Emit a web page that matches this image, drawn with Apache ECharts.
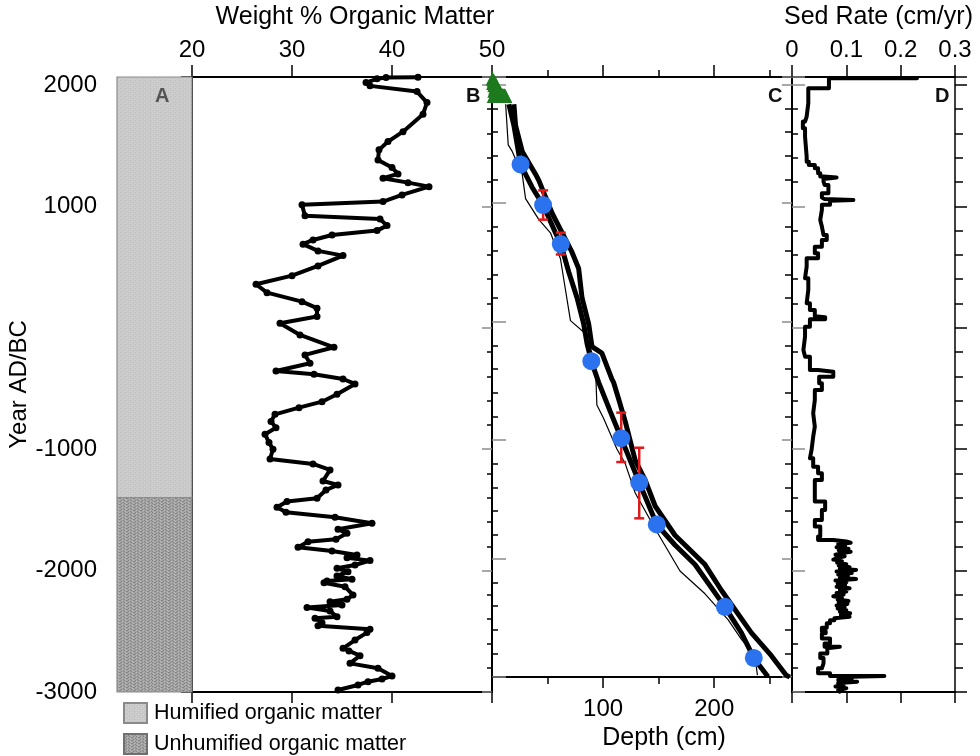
<!DOCTYPE html>
<html>
<head>
<meta charset="utf-8">
<script src="https://cdn.jsdelivr.net/npm/echarts@6/dist/echarts.min.js"></script>
<style>html,body{margin:0;padding:0;background:#fff}#c{width:980px;height:756px}</style>
</head>
<body>
<div id="c"></div>
<script>
// ---------- DATA ----------
const yearMin = -3000, yearMax = 2065;
// Panel A: humification zones [top year, bottom year]
const humifiedSpan = [2065, -1400];
const unhumifiedSpan = [-1400, -3000];
const legendNames = ['Humified organic matter', 'Unhumified organic matter'];

// Panel B: weight % organic matter
const omValue = [42.6,39.4,38.5,37.4,37.8,42.5,43.5,43.1,41.1,39.6,38.7,38.6,40.0,40.6,39.1,41.6,43.7,41.0,39.1,31.0,31.3,38.8,39.5,38.5,34.0,32.1,31.1,32.6,35.1,32.6,30.0,26.4,27.5,31.0,32.5,32.5,28.8,30.8,34.2,31.3,31.8,28.4,32.2,35.1,36.3,34.5,33.0,30.7,28.3,27.9,28.4,27.3,27.7,28.1,27.8,32.1,33.8,33.1,34.6,33.4,32.5,29.5,28.5,29.4,34.3,38.0,34.6,35.5,34.4,31.6,30.6,34.0,36.5,35.5,37.8,36.3,34.5,35.6,34.5,36.0,33.5,33.2,35.3,36.1,35.5,33.8,35.0,31.5,33.8,34.5,32.3,33.0,32.6,37.8,37.5,36.3,35.1,35.7,36.8,35.8,38.6,40.0,39.0,37.6,36.6,34.6];
const omYear = [2062,2060,2050,2019,1992,1945,1854,1759,1615,1533,1465,1382,1319,1267,1231,1195,1162,1094,1039,1012,923,896,841,800,764,723,688,633,594,509,429,358,289,215,161,92,37,-59,-161,-224,-293,-356,-383,-422,-463,-548,-609,-658,-713,-773,-823,-877,-946,-1001,-1081,-1122,-1171,-1262,-1295,-1336,-1405,-1432,-1479,-1520,-1561,-1610,-1660,-1693,-1742,-1762,-1808,-1839,-1871,-1895,-1918,-1954,-1981,-2009,-2044,-2072,-2085,-2100,-2133,-2201,-2237,-2256,-2283,-2305,-2333,-2380,-2393,-2429,-2454,-2484,-2511,-2572,-2640,-2662,-2701,-2764,-2805,-2868,-2893,-2915,-2942,-2983];

// Panel C: age-depth model
const centralDepth = [15.2,19.7,22.7,25.7,36.1,46,57.1,61.9,69,76.5,82.5,85.5,89.4,96,106.5,116.3,132.5,148.3,164.7,182.7,209.6,224.5,235.6,248.4];
const centralYear  = [1835,1657,1492,1327,1135,984,750,655,421,202,-18,-183,-334,-512,-759,-984,-1358,-1712,-1885,-2050,-2407,-2627,-2838,-2997];
const upperDepth = [19.7,21.2,27.2,39.2,42.2,54.1,72,78,81,87,90,98.9,107.9,109.4,113.9,119.9,128.9,137.8,146.8,164.7,191.7,206.6,233.5,251.4,264.8,268];
const upperYear  = [1835,1657,1437,1245,1190,915,586,449,202,-18,-210,-265,-485,-512,-650,-842,-1171,-1336,-1556,-1803,-2050,-2269,-2627,-2819,-2984,-3000];
const lowerDepth = [12.3,14.6,18.2,27.2,30.2,42.2,52.6,61.6,70.6,84,93,94.4,100.4,112.4,119.9,128.9,146.8,169.2,191.7,212.6,224.5,236.5,238.9];
const lowerYear  = [1835,1492,1437,1245,1039,861,750,531,9,-100,-348,-704,-815,-1075,-1198,-1446,-1748,-2105,-2297,-2517,-2681,-2819,-2984];
const dateDepth = [25.7,46,61.9,89.4,116.3,132.5,148.3,209.6,235.6];
const dateYear  = [1327,984,655,-334,-984,-1358,-1712,-2407,-2838];
const errDepth = [46,61.9,116.3,132.5];
const errLow   = [861,567,-1185,-1660];
const errHigh  = [1108,751,-768,-1064];
const pbDepth = [0.5,1.5,1,2.5,2,3.5,3,4.5,2,5.5,4,6.5,3,7.5,5.5,8.5,1.5,9.5,6,10.5,3.5,11.5,7.5,12];
const pbYear  = [2050,2035,2015,2020,1995,2000,1975,1980,1950,1960,1945,1945,1925,1930,1920,1920,1905,1910,1905,1910,1905,1910,1925,1905];

// Panel D: sedimentation rate (rate held from each year down to the next)
const sedRate = [0.230,0.068,0.068,0.030,0.030,0.027,0.024,0.020,0.024,0.027,0.027,0.031,0.042,0.048,0.052,0.058,0.082,0.058,0.060,0.067,0.055,0.052,0.060,0.113,0.070,0.055,0.052,0.055,0.058,0.064,0.055,0.042,0.048,0.027,0.024,0.030,0.027,0.033,0.042,0.045,0.061,0.033,0.024,0.021,0.024,0.033,0.033,0.048,0.076,0.050,0.055,0.042,0.039,0.042,0.039,0.036,0.033,0.039,0.048,0.055,0.042,0.042,0.061,0.055,0.042,0.052,0.048,
  0.076,0.100,0.108,0.085,0.098,0.082,0.104,0.086,0.108,0.090,0.080,0.097,0.084,0.076,0.092,0.083,0.100,0.086,0.106,0.088,0.118,0.082,0.110,0.085,0.103,0.088,0.118,0.080,0.100,0.084,0.098,0.082,0.106,0.088,0.100,0.082,0.095,0.076,0.092,0.084,0.104,0.086,0.102,0.082,0.097,0.084,0.100,0.088,0.107,0.090,0.106,0.078,0.070,0.064,
  0.055,0.062,0.055,0.070,0.060,0.088,0.065,0.052,0.058,0.055,0.048,0.070,0.170,0.090,0.110,0.085,0.120,0.085,0.095,0.080,0.100,0.085,0.088];
const sedYear = [2055,2055,1973,1973,1959,1849,1739,1698,1643,1574,1409,1368,1341,1314,1273,1245,1237,1225,1204,1176,1108,1072,1060,1053,1045,1012,971,888,833,764,723,668,614,573,504,408,311,202,147,95,87,70,9,-73,-183,-238,-320,-348,-362,-403,-457,-512,-595,-704,-815,-897,-1006,-1075,-1144,-1198,-1254,-1363,-1432,-1501,-1583,-1638,-1720,
  -1748,-1760,-1770,-1782,-1795,-1808,-1820,-1832,-1845,-1858,-1870,-1882,-1895,-1910,-1922,-1935,-1948,-1960,-1972,-1985,-1995,-2008,-2020,-2032,-2045,-2058,-2070,-2082,-2095,-2108,-2120,-2133,-2146,-2160,-2172,-2185,-2198,-2212,-2225,-2238,-2250,-2262,-2275,-2288,-2300,-2313,-2326,-2340,-2352,-2366,-2380,-2393,-2410,-2434,
  -2470,-2500,-2517,-2560,-2600,-2627,-2640,-2682,-2720,-2764,-2805,-2846,-2868,-2876,-2890,-2900,-2915,-2925,-2942,-2955,-2969,-2985,-2997];

// ---------- helpers ----------
const zip = (a, b) => a.map((v, i) => [v, b[i]]);
function makePattern(base, dark, light, w, h, darkPts, lightPts) {
  const c = document.createElement('canvas');
  c.width = w; c.height = h;
  const g = c.getContext('2d');
  g.fillStyle = base; g.fillRect(0, 0, w, h);
  g.fillStyle = dark; darkPts.forEach(p => g.fillRect(p[0], p[1], 1, 1));
  g.fillStyle = light; lightPts.forEach(p => g.fillRect(p[0], p[1], 1, 1));
  return c;
}
const humPat = { image: makePattern('#cacaca', '#bebebe', '#d4d4d4', 5, 4, [[0,0],[3,2]], [[2,1],[4,3]]), repeat: 'repeat' };
const unhumPat = { image: makePattern('#a3a3a3', '#858585', '#bababa', 7, 3, [[0,0],[1,0],[4,1],[5,2],[2,2]], [[3,0],[6,1],[0,2]]), repeat: 'repeat' };

const FONT = 'Liberation Sans';
const black = '#000';
const yBase = { type: 'value', min: yearMin, max: yearMax, interval: 1000, splitLine: { show: false }, axisLabel: { show: false } };
function yAx(grid, pos, opts) {
  return Object.assign({}, yBase, { gridIndex: grid, position: pos,
    axisLine: { show: true, onZero: false, lineStyle: { color: black, width: opts.lw || 2 } },
    axisTick: { show: true, inside: opts.inside, length: opts.major, lineStyle: { color: opts.majorColor, width: 1.5 } },
    minorTick: { show: true, splitNumber: 5, length: opts.minor, lineStyle: { color: black, width: 1.5 } }
  });
}
function xAx(grid, pos, min, max, interval, opts) {
  return Object.assign({ type: 'value', gridIndex: grid, position: pos, min: min, max: max, interval: interval,
    splitLine: { show: false },
    axisLine: { show: true, onZero: false, lineStyle: { color: black, width: 2 } },
    axisTick: { show: true, inside: false, length: opts.major || 12, lineStyle: { color: black, width: 1.5 } },
    minorTick: { show: !!opts.minor, splitNumber: 2, length: opts.minor || 0, lineStyle: { color: black, width: 1.5 } },
    axisLabel: { show: !!opts.labels, fontSize: 24, color: black, margin: opts.margin || 14, formatter: opts.formatter }
  }, opts.extra || {});
}

const rectItem = (params, api) => {
  const p1 = api.coord([0, api.value(1)]);
  const p2 = api.coord([1, api.value(2)]);
  return { type: 'rect', shape: { x: p1[0], y: p1[1], width: p2[0] - p1[0], height: p2[1] - p1[1] },
    style: { fill: api.visual('color'), stroke: '#8a8a8a', lineWidth: 1.2 } };
};
const errItem = (params, api) => {
  const lo = api.coord([api.value(0), api.value(1)]);
  const hi = api.coord([api.value(0), api.value(2)]);
  const w = 5, st = { stroke: '#e01a1a', lineWidth: 2.5 };
  return { type: 'group', children: [
    { type: 'line', shape: { x1: lo[0], y1: lo[1], x2: hi[0], y2: hi[1] }, style: st },
    { type: 'line', shape: { x1: lo[0] - w, y1: lo[1], x2: lo[0] + w, y2: lo[1] }, style: st },
    { type: 'line', shape: { x1: hi[0] - w, y1: hi[1], x2: hi[0] + w, y2: hi[1] }, style: st }
  ] };
};

const option = {
  animation: false,
  backgroundColor: '#fff',
  textStyle: { fontFamily: FONT, color: black },
  grid: [
    { left: 117, top: 77, width: 75, height: 615 },
    { left: 192, top: 77, width: 300, height: 615 },
    { left: 492, top: 77, width: 300, height: 615 },
    { left: 792, top: 77, width: 163, height: 615 }
  ],
  legend: {
    data: legendNames, orient: 'vertical', left: 123, top: 702, padding: 0, itemWidth: 23, itemHeight: 20, itemGap: 9,
    icon: 'rect', selectedMode: false,
    textStyle: { fontSize: 21.5, lineHeight: 20, color: black, fontFamily: FONT, padding: [0, 0, 0, 2] }
  },
  xAxis: [
    { type: 'value', gridIndex: 0, min: 0, max: 1, show: false },
    xAx(1, 'top', 20, 50, 10, { labels: true, margin: 15, extra: {
      name: 'Weight % Organic Matter', nameLocation: 'middle', nameGap: 47, nameTextStyle: { fontSize: 25, color: black, padding: [0, 0, 0, 26] } } }),
    xAx(1, 'bottom', 20, 50, 10, { major: 11 }),
    xAx(2, 'top', 0, 270, 100, { major: 12, minor: 7 }),
    xAx(2, 'bottom', 0, 270, 100, { major: 11, minor: 7, labels: true, margin: 20,
      formatter: v => (v === 100 || v === 200) ? String(v) : '',
      extra: { name: 'Depth (cm)', nameLocation: 'middle', nameGap: 42, nameTextStyle: { fontSize: 25, color: black, padding: [0, 0, 0, 44] } } }),
    xAx(3, 'top', 0, 0.3, 0.1, { labels: true, margin: 15, extra: {
      name: 'Sed Rate (cm/yr)', nameLocation: 'middle', nameGap: 47, nameTextStyle: { fontSize: 25, color: black, padding: [0, 0, 0, 10] } } }),
    xAx(3, 'bottom', 0, 0.3, 0.1, { major: 11 })
  ],
  yAxis: [
    Object.assign({}, yBase, { gridIndex: 0, position: 'left', axisLine: { show: false }, axisTick: { show: false },
      axisLabel: { show: true, fontSize: 24, color: black, margin: 20, formatter: v => (v % 1000 === 0 && v !== 0) ? String(v) : '' },
      name: 'Year AD/BC', nameLocation: 'middle', nameGap: 77, nameTextStyle: { fontSize: 24, color: black } }),
    yAx(1, 'left', { inside: false, major: 11, minor: 11, majorColor: black }),
    yAx(1, 'right', { inside: true, major: 10, minor: 5, majorColor: '#8c8c8c' }),
    yAx(2, 'left', { inside: true, major: 14, minor: 6, majorColor: '#8c8c8c' }),
    yAx(2, 'right', { inside: true, major: 10, minor: 7, majorColor: '#8c8c8c' }),
    yAx(3, 'left', { inside: true, major: 13, minor: 6, majorColor: '#8c8c8c' }),
    yAx(3, 'right', { inside: false, major: 12, minor: 8, majorColor: black, lw: 1.5 })
  ],
  series: [
    { type: 'custom', name: legendNames[0], xAxisIndex: 0, yAxisIndex: 0, renderItem: rectItem,
      itemStyle: { color: humPat, borderColor: '#8a8a8a', borderWidth: 1 }, encode: { x: 0, y: [1, 2] },
      data: [[0, humifiedSpan[0], humifiedSpan[1]]], z: 1 },
    { type: 'custom', name: legendNames[1], xAxisIndex: 0, yAxisIndex: 0, renderItem: rectItem,
      itemStyle: { color: unhumPat, borderColor: '#707070', borderWidth: 1 }, encode: { x: 0, y: [1, 2] },
      data: [[0, unhumifiedSpan[0], unhumifiedSpan[1]]], z: 1 },
    { type: 'line', xAxisIndex: 1, yAxisIndex: 1, data: zip(omValue, omYear), symbol: 'circle', symbolSize: 7,
      showAllSymbol: true, lineStyle: { color: black, width: 4 }, itemStyle: { color: black }, clip: false, z: 3 },
    { type: 'line', xAxisIndex: 3, yAxisIndex: 3, data: zip(lowerDepth, lowerYear), symbol: 'none',
      lineStyle: { color: black, width: 1.2 }, z: 3 },
    { type: 'line', xAxisIndex: 3, yAxisIndex: 3, data: zip(upperDepth, upperYear), symbol: 'none',
      lineStyle: { color: black, width: 5 }, z: 3 },
    { type: 'line', xAxisIndex: 3, yAxisIndex: 3, data: zip(centralDepth, centralYear), symbol: 'none',
      lineStyle: { color: black, width: 5 }, z: 3 },
    { type: 'custom', xAxisIndex: 3, yAxisIndex: 3, renderItem: errItem, encode: { x: 0, y: [1, 2] },
      data: errDepth.map((d, i) => [d, errLow[i], errHigh[i]]), z: 4 },
    { type: 'scatter', xAxisIndex: 3, yAxisIndex: 3, data: zip(dateDepth, dateYear), symbol: 'circle', symbolSize: 18,
      itemStyle: { color: '#2b72ee', opacity: 1 }, z: 5 },
    { type: 'scatter', xAxisIndex: 3, yAxisIndex: 3, data: zip(pbDepth, pbYear), symbol: 'triangle', symbolSize: 14,
      itemStyle: { color: '#1e7a1e', opacity: 1 }, clip: false, z: 6 },
    { type: 'line', xAxisIndex: 5, yAxisIndex: 5, data: zip(sedRate, sedYear), symbol: 'none', step: 'start',
      lineStyle: { color: black, width: 4, join: 'round', cap: 'round' }, clip: false, z: 3 }
  ],
  graphic: [
    { type: 'text', left: 155, top: 86, z: 100, style: { text: 'A', font: 'bold 20px "Liberation Sans"', fill: '#555' } },
    { type: 'text', left: 466, top: 86, z: 100, style: { text: 'B', font: 'bold 20px "Liberation Sans"', fill: '#111' } },
    { type: 'text', left: 768, top: 86, z: 100, style: { text: 'C', font: 'bold 20px "Liberation Sans"', fill: '#111' } },
    { type: 'text', left: 935, top: 86, z: 100, style: { text: 'D', font: 'bold 20px "Liberation Sans"', fill: '#111' } }
  ]
};
const chart = echarts.init(document.getElementById('c'), null, { renderer: 'canvas' });
chart.setOption(option);
</script>
</body>
</html>
